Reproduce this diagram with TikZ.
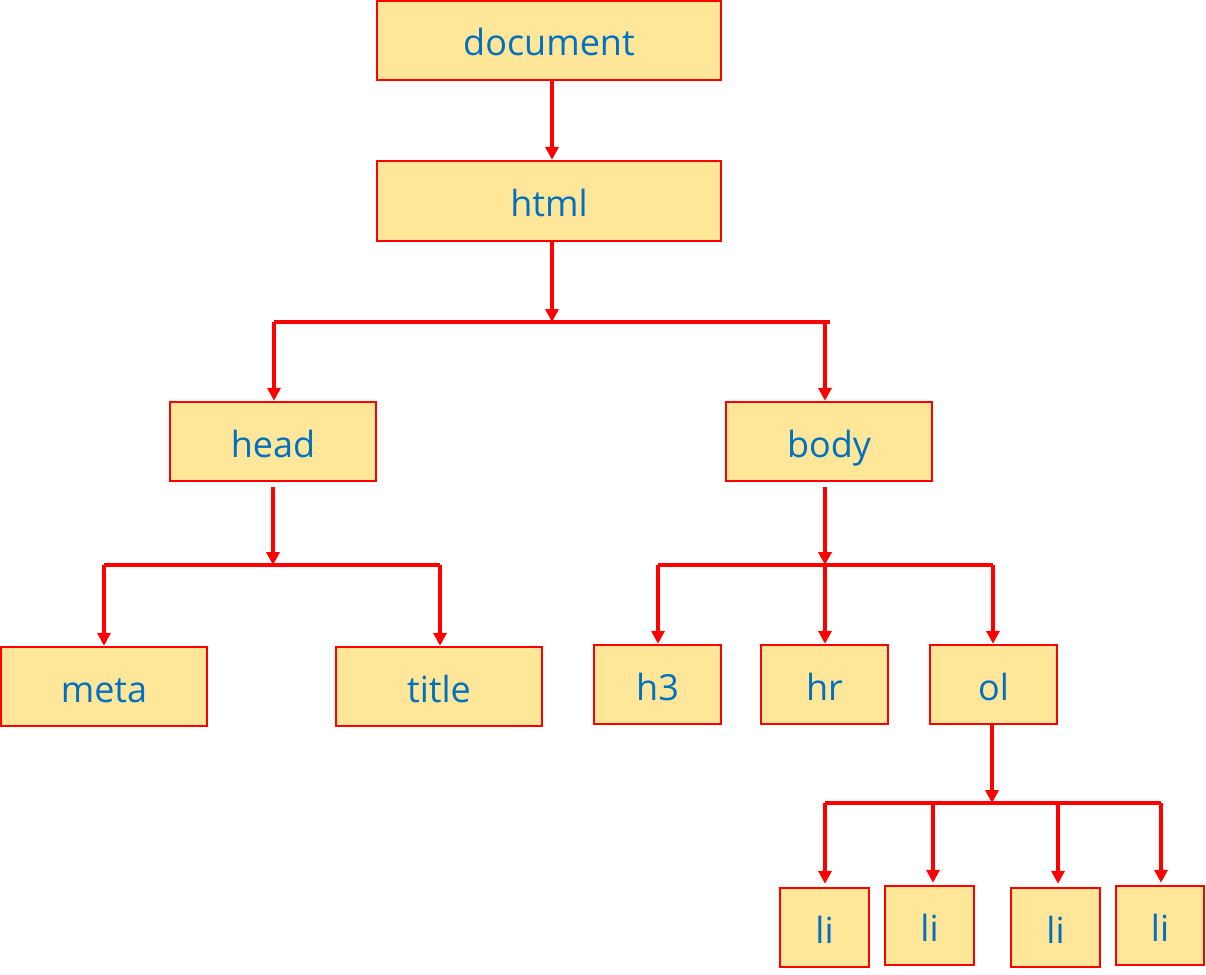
\documentclass[tikz,border=0pt]{standalone}
\usepackage{fontspec}
\setmainfont{Open Sans}
\usetikzlibrary{arrows.meta}
\definecolor{boxfill}{RGB}{255,230,153}
\definecolor{boxline}{RGB}{255,0,0}
\definecolor{tagtext}{RGB}{0,112,192}
\begin{document}
\begin{tikzpicture}[x=1pt,y=-1pt,
  tag/.style={draw=boxline,fill=boxfill,line width=2.4pt,text=tagtext,
    font=\fontsize{36}{40}\selectfont,inner sep=0pt,anchor=center,
    text height=31pt,text depth=0pt},
  wire/.style={draw=boxline,line width=3.4pt},
  arr/.style={wire,-{Triangle[length=13pt,width=13pt]}}]
\useasboundingbox (0,0) rectangle (1206,974);
% element boxes
\node[tag,minimum width=344pt,minimum height=79pt] (document) at (549,40.5) {document};
\node[tag,minimum width=344pt,minimum height=80pt] (html) at (549,201) {html};
\node[tag,minimum width=206pt,minimum height=79pt] (head) at (273,441.5) {head};
\node[tag,minimum width=206pt,minimum height=79pt] (body) at (829,441.5) {body};
\node[tag,minimum width=206pt,minimum height=79pt] (meta) at (104,686.5) {meta};
\node[tag,minimum width=206pt,minimum height=79pt] (title) at (439,686.5) {title};
\node[tag,minimum width=127pt,minimum height=79pt] (h3) at (657.5,684.5) {h3};
\node[tag,minimum width=127pt,minimum height=79pt] (hr) at (824.5,684.5) {hr};
\node[tag,minimum width=127pt,minimum height=79pt] (ol) at (993.5,684.5) {ol};
\node[tag,minimum width=89pt,minimum height=79pt] (li1) at (824.5,927.5) {li};
\node[tag,minimum width=89pt,minimum height=79pt] (li2) at (929.5,925.5) {li};
\node[tag,minimum width=89pt,minimum height=79pt] (li3) at (1055.5,927.5) {li};
\node[tag,minimum width=88pt,minimum height=79pt] (li4) at (1160,925.5) {li};
% branch points
\coordinate (j1) at (552,322);
\coordinate (j1l) at (274,322);
\coordinate (j1r) at (830,322);
\coordinate (j1b) at (825,322);
\coordinate (j2) at (273,565);
\coordinate (j2l) at (104,565);
\coordinate (j2r) at (440,565);
\coordinate (j3) at (825,565);
\coordinate (j3l) at (658,565);
\coordinate (j3r) at (993,565);
\coordinate (j4) at (992,803);
\coordinate (j4l) at (825,803);
\coordinate (j4a) at (933,803);
\coordinate (j4b) at (1058,803);
\coordinate (j4r) at (1161,803);
% document -> html
\draw[arr] (document.south -| 552,0) -- (html.north -| 552,0);
% html -> head, body
\draw[arr] (html.south -| j1) -- (j1);
\draw[wire] (j1l) -- (j1r);
\draw[arr] (j1l) -- (head.north -| j1l);
\draw[arr] (j1b) -- (body.north -| j1b);
% head -> meta, title
\draw[arr,shorten <=5pt] (head.south -| j2) -- (j2);
\draw[wire] (j2l) -- (j2r);
\draw[arr] (j2l) -- (meta.north -| j2l);
\draw[arr] (j2r) -- (title.north -| j2r);
% body -> h3, hr, ol
\draw[arr,shorten <=5pt] (body.south -| j3) -- (j3);
\draw[wire] (j3l) -- (j3r);
\draw[arr] (j3l) -- (h3.north -| j3l);
\draw[arr] (j3) -- (hr.north -| j3);
\draw[arr] (j3r) -- (ol.north -| j3r);
% ol -> li
\draw[arr] (ol.south -| j4) -- (j4);
\draw[wire] (j4l) -- (j4r);
\draw[arr,shorten >=3pt] (j4l) -- (li1.north -| j4l);
\draw[arr,shorten >=2pt] (j4a) -- (li2.north -| j4a);
\draw[arr,shorten >=3pt] (j4b) -- (li3.north -| j4b);
\draw[arr,shorten >=2pt] (j4r) -- (li4.north -| j4r);
\end{tikzpicture}
\end{document}
